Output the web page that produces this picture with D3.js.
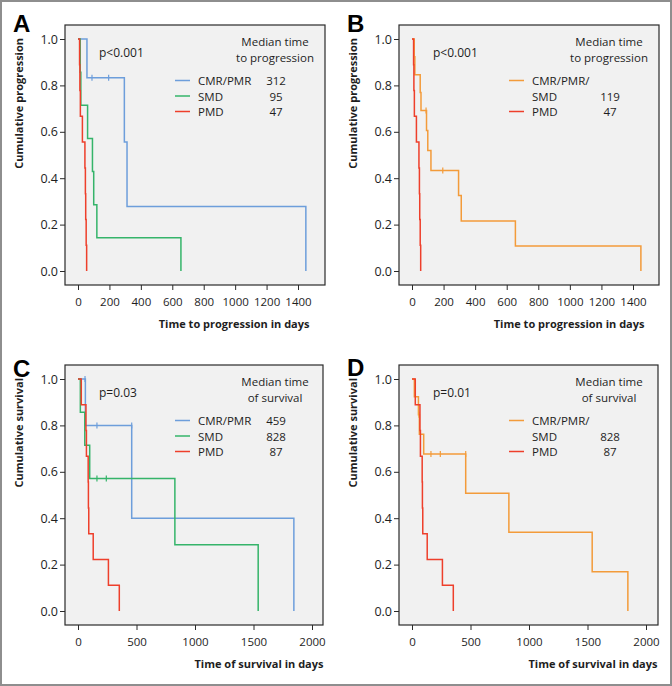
<!DOCTYPE html>
<html>
<head>
<meta charset="utf-8">
<script src="https://cdn.jsdelivr.net/npm/d3@7"></script>
<style>
    body { margin: 0; background: #fff; }
    svg text { font-family: "Open Sans", sans-serif; fill: #1e1e1e; }
</style>
</head>
<body>
<div id="chart"></div>
<script>
// Kaplan-Meier steps (time in days, cumulative value after each event)

// progression, panels A and B
var progCmrTime = [0, 57, 295, 312, 1450];
var progCmrSurv = [1, 0.833, 0.556, 0.278, 0];
var progCmrCensor = [89, 195];

var progSmdTime = [0, 14, 18, 61, 92, 100, 120, 655];
var progSmdSurv = [1, 0.857, 0.714, 0.571, 0.429, 0.286, 0.143, 0];

var progPmdTime = [0, 10, 12, 15, 28, 44, 47, 49, 52, 55];
var progPmdSurv = [1, 0.889, 0.778, 0.667, 0.556, 0.444, 0.333, 0.222, 0.111, 0];

var progAllTime = [0, 14, 18, 52, 57, 92, 100, 120, 295, 312, 655, 1450];
var progAllSurv = [1, 0.923, 0.846, 0.769, 0.692, 0.606, 0.519, 0.433, 0.325, 0.216, 0.108, 0];
var progAllCensor = [89, 195];

// survival, panels C and D
var survCmrTime = [0, 63, 459, 1845];
var survCmrSurv = [1, 0.8, 0.4, 0];
var survCmrCensor = [60, 162, 459];

var survSmdTime = [0, 20, 58, 100, 828, 1540];
var survSmdSurv = [1, 0.857, 0.714, 0.571, 0.286, 0];
var survSmdCensor = [162, 242];

var survPmdTime = [0, 28, 68, 72, 87, 89, 92, 130, 260, 353];
var survPmdSurv = [1, 0.889, 0.778, 0.667, 0.556, 0.444, 0.333, 0.222, 0.111, 0];

var survAllTime = [0, 20, 55, 63, 100, 459, 828, 1540, 1845];
var survAllSurv = [1, 0.923, 0.846, 0.762, 0.677, 0.508, 0.339, 0.169, 0];
var survAllCensor = [60, 162, 242, 459];

// ticks and legend text
var progTicks = [0, 200, 400, 600, 800, 1000, 1200, 1400];
var survTicks = [0, 500, 1000, 1500, 2000];
var yTicks = [0, 0.2, 0.4, 0.6, 0.8, 1.0];

var legendA = ["CMR/PMR", "SMD", "PMD"];
var mediansA = ["312", "95", "47"];
var legendB = ["CMR/PMR/", "SMD", "PMD"];
var mediansB = ["", "119", "47"];
var legendC = ["CMR/PMR", "SMD", "PMD"];
var mediansC = ["459", "828", "87"];
var legendD = ["CMR/PMR/", "SMD", "PMD"];
var mediansD = ["", "828", "87"];

var blue = "#6d9edb", green = "#35b46a", red = "#ee3f2b", orange = "#f39b3a";

var svg = d3.select("#chart")
    .append("svg")
        .attr("width", 672)
        .attr("height", 686);

svg.append("rect")
    .attr("x", 1).attr("y", 1)
    .attr("width", 670).attr("height", 684)
    .attr("fill", "#fff")
    .attr("stroke", "#8e8e8e")
    .attr("stroke-width", 2);

// value of the step curve just before time t (for censor ticks)
function valueBefore(times, surv, t){
    var v = surv[0];
    for (var i = 0; i < times.length; i++){
        if (times[i] < t) v = surv[i];
    }
    return v;
}

function drawPanel(p){
    var g = svg.append("g");

    var x = d3.scaleLinear().domain([0, p.ticks[p.ticks.length - 1]])
        .range([p.left + 13, p.left + p.xEnd]);
    var y = d3.scaleLinear().domain([0, 1]).range([p.top + 246, p.top + 14]);

    g.append("rect")
        .attr("x", p.left).attr("y", p.top)
        .attr("width", p.w).attr("height", 260)
        .attr("fill", "#f1f1f1")
        .attr("stroke", "#2a2a2a")
        .attr("stroke-width", 1.2);

    // axes
    var yAxis = g.append("g")
        .attr("transform", "translate(" + p.left + ",0)")
        .call(d3.axisLeft(y).tickValues(yTicks).tickSize(5).tickPadding(2).tickFormat(d3.format(".1f")));
    var xAxis = g.append("g")
        .attr("transform", "translate(0," + (p.top + 260) + ")")
        .call(d3.axisBottom(x).tickValues(p.ticks).tickSize(5).tickPadding(8).tickFormat(d3.format("d")));
    [yAxis, xAxis].forEach(function(a){
        a.select(".domain").remove();
        a.selectAll("line").attr("stroke", "#2a2a2a");
        a.selectAll("text").attr("fill", "#1e1e1e")
            .attr("font-family", "'Open Sans', sans-serif");
    });
    yAxis.selectAll("text").attr("font-size", "12.5px");
    xAxis.selectAll("text").attr("font-size", "11.5px");

    // axis titles
    g.append("text")
        .attr("x", x(p.ticks[p.ticks.length - 1]) + 11.5)
        .attr("y", p.top + 303)
        .attr("text-anchor", "end")
        .attr("font-size", "11px")
        .attr("font-weight", "bold")
        .text(p.xTitle);

    g.append("text")
        .attr("transform", "translate(" + (p.left - 42) + "," + (p.top + 13) + ") rotate(-90)")
        .attr("text-anchor", "end")
        .attr("font-size", "11px")
        .attr("font-weight", "bold")
        .text(p.yTitle);

    // panel letter
    g.append("text")
        .attr("x", p.left - 52)
        .attr("y", p.letterY)
        .style("font-family", "'Liberation Sans', Arial, sans-serif")
        .style("fill", "#000")
        .attr("font-size", "24px")
        .attr("font-weight", "bold")
        .text(p.letter);

    // curves
    var line = d3.line()
        .x(function(d){ return x(d[0]); })
        .y(function(d){ return y(d[1]); })
        .curve(d3.curveStepAfter);

    p.curves.forEach(function(c){
        var pts = c.time.map(function(t, i){ return [t, c.surv[i]]; });
        g.append("path")
            .attr("d", line(pts))
            .attr("fill", "none")
            .attr("stroke", c.color)
            .attr("stroke-width", 1.5);
        (c.censor || []).forEach(function(t){
            var v = valueBefore(c.time, c.surv, t);
            g.append("line")
                .attr("x1", x(t)).attr("x2", x(t))
                .attr("y1", y(v) - 3).attr("y2", y(v) + 3)
                .attr("stroke", c.color)
                .attr("stroke-width", 1.2);
        });
    });

    // p value
    g.append("text")
        .attr("x", p.left + 34)
        .attr("y", p.top + 32)
        .attr("font-size", "12px")
        .text(p.pText);

    // legend
    var cx = p.left + 210;
    p.heading.forEach(function(h, i){
        g.append("text")
            .attr("x", cx)
            .attr("y", p.top + 21 + i * 15.5)
            .attr("text-anchor", "middle")
            .attr("font-size", "11.5px")
            .text(h);
    });
    p.legend.forEach(function(name, i){
        var by = p.top + 60 + i * 15.5;
        if (p.legendColors[i]){
            g.append("line")
                .attr("x1", p.left + 110).attr("x2", p.left + 125)
                .attr("y1", by - 4.5).attr("y2", by - 4.5)
                .attr("stroke", p.legendColors[i])
                .attr("stroke-width", 1.5);
        }
        g.append("text")
            .attr("x", p.left + 133)
            .attr("y", by)
            .attr("font-size", "11.5px")
            .text(name);
        g.append("text")
            .attr("x", cx + 1)
            .attr("y", by)
            .attr("text-anchor", "middle")
            .attr("font-size", "11.5px")
            .text(p.medians[i]);
    });
}

drawPanel({
    letter: "A", letterY: 32, left: 65, top: 25, w: 260, xEnd: 233,
    ticks: progTicks, xTitle: "Time to progression in days", yTitle: "Cumulative progression",
    pText: "p<0.001", heading: ["Median time", "to progression"],
    legend: legendA, medians: mediansA, legendColors: [blue, green, red],
    curves: [
        {time: progCmrTime, surv: progCmrSurv, censor: progCmrCensor, color: blue},
        {time: progSmdTime, surv: progSmdSurv, color: green},
        {time: progPmdTime, surv: progPmdSurv, color: red}
    ]
});

drawPanel({
    letter: "B", letterY: 32, left: 399, top: 25, w: 260, xEnd: 234,
    ticks: progTicks, xTitle: "Time to progression in days", yTitle: "Cumulative progression",
    pText: "p<0.001", heading: ["Median time", "to progression"],
    legend: legendB, medians: mediansB, legendColors: [orange, null, red],
    curves: [
        {time: progAllTime, surv: progAllSurv, censor: progAllCensor, color: orange},
        {time: progPmdTime, surv: progPmdSurv, color: red}
    ]
});

drawPanel({
    letter: "C", letterY: 377, left: 65, top: 365, w: 258, xEnd: 247,
    ticks: survTicks, xTitle: "Time of survival in days", yTitle: "Cumulative survival",
    pText: "p=0.03", heading: ["Median time", "of survival"],
    legend: legendC, medians: mediansC, legendColors: [blue, green, red],
    curves: [
        {time: survCmrTime, surv: survCmrSurv, censor: survCmrCensor, color: blue},
        {time: survSmdTime, surv: survSmdSurv, censor: survSmdCensor, color: green},
        {time: survPmdTime, surv: survPmdSurv, color: red}
    ]
});

drawPanel({
    letter: "D", letterY: 376, left: 399, top: 365, w: 259, xEnd: 247,
    ticks: survTicks, xTitle: "Time of survival in days", yTitle: "Cumulative survival",
    pText: "p=0.01", heading: ["Median time", "of survival"],
    legend: legendD, medians: mediansD, legendColors: [orange, null, red],
    curves: [
        {time: survAllTime, surv: survAllSurv, censor: survAllCensor, color: orange},
        {time: survPmdTime, surv: survPmdSurv, color: red}
    ]
});
</script>
</body>
</html>
